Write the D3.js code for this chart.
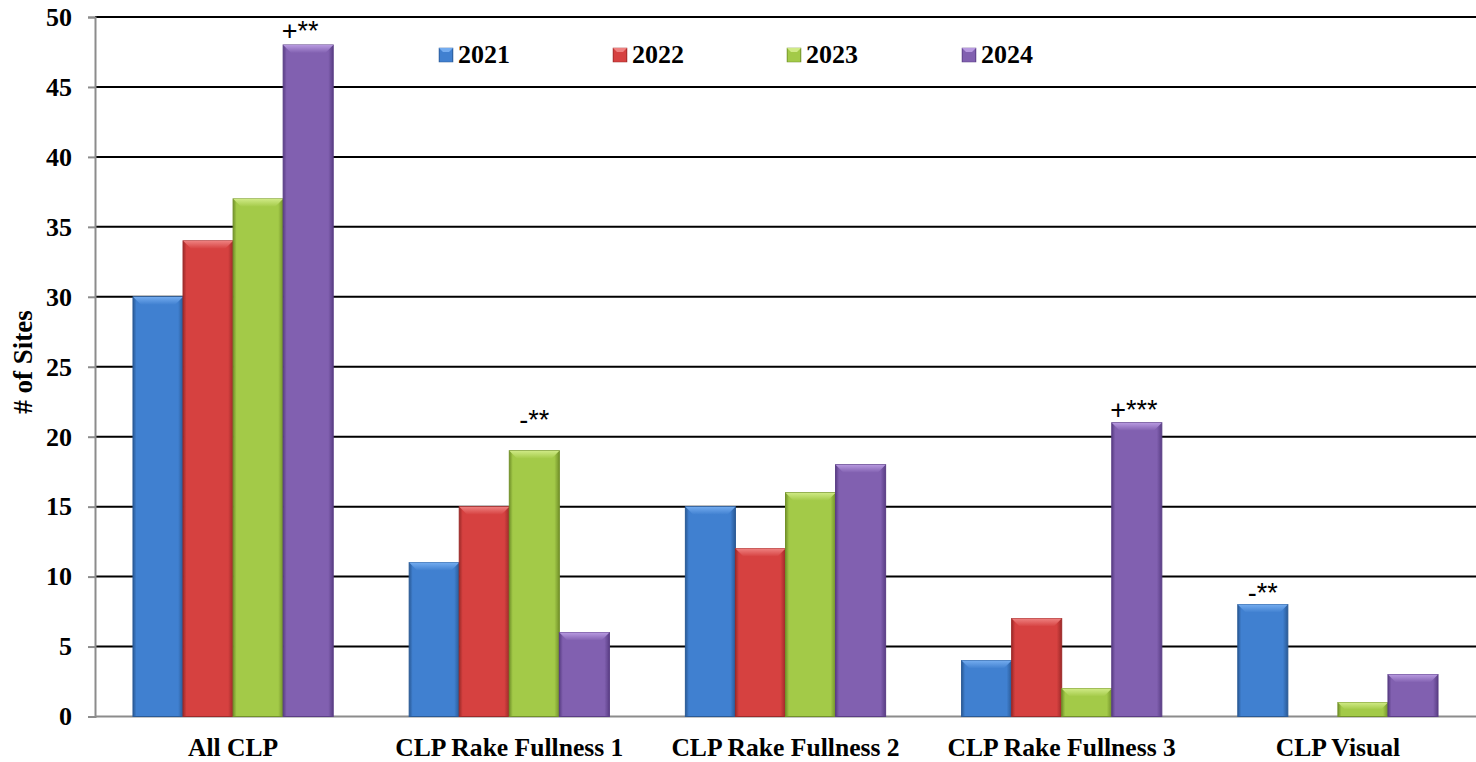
<!DOCTYPE html>
<html><head><meta charset="utf-8">
<script src="https://cdn.jsdelivr.net/npm/d3@7"></script>
<style>body{margin:0;background:#fff}svg{display:block}</style>
</head><body>
<svg id="c" width="1476" height="762"></svg>
<script>
const categories = ["All CLP","CLP Rake Fullness 1","CLP Rake Fullness 2","CLP Rake Fullness 3","CLP Visual"];
const seriesNames = ["2021","2022","2023","2024"];
const v2021 = [30,11,15,4,8];
const v2022 = [34,15,12,7,0];
const v2023 = [37,19,16,2,1];
const v2024 = [48,6,18,21,3];
const yTicks = [0,5,10,15,20,25,30,35,40,45,50];
const annotations = [
  {cat:"All CLP", series:"2024", text:"+**"},
  {cat:"CLP Rake Fullness 1", series:"2023", text:"-**"},
  {cat:"CLP Rake Fullness 3", series:"2024", text:"+***"},
  {cat:"CLP Visual", series:"2021", text:"-**"}
];
const annotOffset = [{dx:-8,dy:5},{dx:0,dy:22},{dx:-3,dy:4},{dx:0,dy:3}];
const seriesVals = [v2021,v2022,v2023,v2024];
const colors = [
  {mid:"#4080d0", edge:"#2a5a96", top:"#74acef"},
  {mid:"#d64140", edge:"#9d2a29", top:"#ee8180"},
  {mid:"#a3ca48", edge:"#72912a", top:"#d0ea86"},
  {mid:"#8160b0", edge:"#5a3e85", top:"#b89ae0"}
];
const serif = "'Liberation Serif','Times New Roman',serif";

const svg = d3.select("#c");
const L = 95, R = 1476, T = 17, B = 716.5;
const x0 = d3.scaleBand().domain(categories).range([L,R]).paddingInner(0).paddingOuter(0);
const groupW = x0.bandwidth()*0.725;
const x1 = d3.scaleBand().domain(seriesNames).range([0,groupW]);
const y = d3.scaleLinear().domain([0,50]).range([B,T]);

const defs = svg.append("defs");
colors.forEach((c,i)=>{
  const g = defs.append("linearGradient").attr("id","g"+i).attr("x1","0").attr("x2","1").attr("y1","0").attr("y2","0");
  g.append("stop").attr("offset","0").attr("stop-color",c.edge);
  g.append("stop").attr("offset","0.07").attr("stop-color",c.mid);
  g.append("stop").attr("offset","0.9").attr("stop-color",c.mid);
  g.append("stop").attr("offset","1").attr("stop-color",c.edge);
  const gt = defs.append("linearGradient").attr("id","t"+i).attr("x1","0").attr("x2","0").attr("y1","0").attr("y2","1");
  gt.append("stop").attr("offset","0").attr("stop-color",c.top);
  gt.append("stop").attr("offset","1").attr("stop-color",c.mid);
});

// gridlines
svg.append("g").selectAll("line").data(yTicks.filter(d=>d>0)).join("line")
  .attr("x1",L).attr("x2",R).attr("y1",d=>y(d)).attr("y2",d=>y(d))
  .attr("stroke","#000").attr("stroke-width",2);

// axis
const ax = svg.append("g").attr("transform",`translate(${L},0)`)
  .call(d3.axisLeft(y).tickValues(yTicks).tickSize(7).tickPadding(16));
ax.select(".domain").attr("stroke","#8c8c8c").attr("stroke-width",2);
ax.selectAll(".tick line").attr("stroke","#8c8c8c").attr("stroke-width",2);
ax.selectAll(".tick text").attr("font-family",serif)
  .attr("font-weight","bold").attr("font-size",26).attr("fill","#000");
svg.append("line").attr("x1",L).attr("x2",R).attr("y1",B).attr("y2",B).attr("stroke","#8c8c8c").attr("stroke-width",2);

// bars
const bev = 8;
categories.forEach((cat,ci)=>{
  const gx = x0(cat) + (x0.bandwidth()-groupW)/2;
  seriesNames.forEach((s,si)=>{
    const v = seriesVals[si][ci];
    if (v<=0) return;
    const bx = gx + x1(s), bw = x1.bandwidth(), by = y(v), bh = B - by;
    const g = svg.append("g");
    g.append("rect").attr("x",bx).attr("y",by).attr("width",bw).attr("height",bh)
      .attr("fill",`url(#g${si})`).attr("stroke",colors[si].edge).attr("stroke-width",1);
    const b = Math.min(bev, bh/2);
    g.append("path").attr("d",`M${bx},${by}L${bx+bw},${by}L${bx+bw-b},${by+b}L${bx+b},${by+b}Z`)
      .attr("fill",`url(#t${si})`);
  });
});

// annotations
annotations.forEach((a,i)=>{
  const ci = categories.indexOf(a.cat), si = seriesNames.indexOf(a.series);
  const v = seriesVals[si][ci];
  const cx = x0(a.cat) + (x0.bandwidth()-groupW)/2 + x1(a.series) + x1.bandwidth()/2;
  svg.append("text").attr("x",cx+annotOffset[i].dx).attr("y",y(v)-annotOffset[i].dy).attr("text-anchor","middle")
    .attr("font-family","'Liberation Sans',Arial,sans-serif").attr("font-size",27).attr("fill","#000").text(a.text);
});

// category labels
svg.append("g").selectAll("text").data(categories).join("text")
  .attr("x",d=>x0(d)+x0.bandwidth()/2).attr("y",756).attr("text-anchor","middle")
  .attr("font-family",serif).attr("font-weight","bold")
  .attr("font-size",25.6).text(d=>d);

// y title
svg.append("text").attr("transform","translate(32,362) rotate(-90)").attr("text-anchor","middle")
  .attr("font-family",serif).attr("font-weight","bold")
  .attr("font-size",27).text("# of Sites");

// legend
const legX = [439,613,787,962];
seriesNames.forEach((s,i)=>{
  const g = svg.append("g").attr("transform",`translate(${legX[i]},48)`);
  g.append("rect").attr("x",0).attr("y",0).attr("width",14).attr("height",14).attr("fill",`url(#g${i})`).attr("stroke",colors[i].edge).attr("stroke-width",0.5);
  g.append("path").attr("d","M0,0L14,0L10,4L4,4Z").attr("fill",colors[i].top);
  g.append("text").attr("x",19).attr("y",15).attr("font-family",serif)
    .attr("font-weight","bold").attr("font-size",26).text(s);
});
</script>
</body></html>
